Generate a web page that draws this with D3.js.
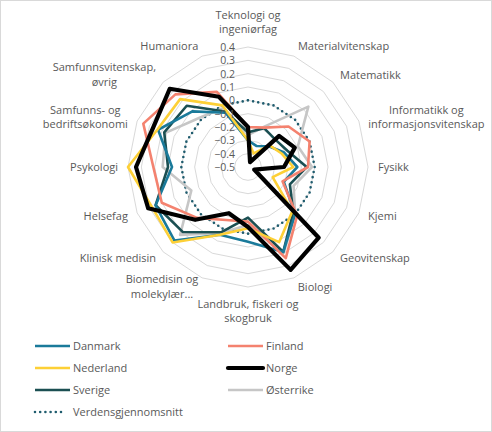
<!DOCTYPE html>
<html>
<head>
<meta charset="utf-8">
<script src="https://cdn.jsdelivr.net/npm/d3@7"></script>
<style>
  body { margin: 0; background: #fff; }
  svg { display: block; font-family: "Open Sans", sans-serif; }
</style>
</head>
<body>
<div id="chart"></div>
<script>
// ---- data ----
const fagfelt = [
  "Teknologi og\ningeniørfag", "Materialvitenskap", "Matematikk",
  "Informatikk og\ninformasjonsvitenskap", "Fysikk", "Kjemi", "Geovitenskap",
  "Biologi", "Landbruk, fiskeri og\nskogbruk", "Biomedisin og\nmolekylær...",
  "Klinisk medisin", "Helsefag", "Psykologi", "Samfunns- og\nbedriftsøkonomi",
  "Samfunnsvitenskap,\nøvrig", "Humaniora"
];

const land = ["Danmark", "Finland", "Nederland", "Norge", "Sverige", "Østerrike", "Verdensgjennomsnitt"];

const danmark   = [-0.30, -0.33, -0.28, -0.21, -0.13, -0.21, 0.00, 0.19, 0.06, 0.05, 0.28, 0.25, 0.07, 0.23, 0.09, -0.06];
const finland   = [-0.20, -0.18, -0.07, 0.00, -0.05, -0.22, 0.02, 0.24, -0.09, -0.07, 0.04, 0.20, 0.21, 0.35, 0.27, 0.11];
const nederland = [-0.30, -0.39, -0.27, -0.23, -0.16, -0.30, -0.03, 0.11, -0.04, 0.05, 0.30, 0.28, 0.40, 0.235, 0.22, 0.00];
const norge     = [-0.20, -0.46, -0.17, -0.12, -0.23, -0.45, 0.25, 0.335, -0.05, -0.125, 0.06, 0.31, 0.34, 0.27, 0.33, 0.07];
const sverige   = [-0.24, -0.185, -0.21, -0.18, -0.06, -0.16, -0.02, 0.19, -0.12, 0.03, 0.19, 0.25, 0.10, 0.18, 0.15, -0.05];
const osterrike = [-0.26, -0.17, 0.14, -0.095, -0.02, -0.13, 0.00, 0.20, -0.065, 0.035, 0.22, -0.04, 0.14, 0.17, 0.02, -0.02];
const verden    = [0, 0, 0, 0, 0, 0, 0, 0, 0, 0, 0, 0, 0, 0, 0, 0];

const ticks = [-0.5, -0.4, -0.3, -0.2, -0.1, 0, 0.1, 0.2, 0.3, 0.4];

const farger = ["#1a7a9a", "#f4826f", "#fdd036", "#000000", "#1b4f52", "#c6c6c6", "#1f5c6e"];
const serier = [danmark, finland, nederland, norge, sverige, osterrike, verden];

// ---- layout ----
const width = 492, height = 432;
const cx = 248, cy = 167, R = 120;

const svg = d3.select("#chart").append("svg")
  .attr("width", width).attr("height", height);

svg.append("rect")
  .attr("x", 0.5).attr("y", 0.5)
  .attr("width", width - 1).attr("height", height - 1)
  .attr("fill", "#fff").attr("stroke", "#d9d9d9");

const rScale = d3.scaleLinear().domain([-0.5, 0.4]).range([0, R]);
const aScale = d3.scaleLinear().domain([0, fagfelt.length]).range([0, 2 * Math.PI]);

const g = svg.append("g").attr("transform", `translate(${cx},${cy})`);

// rutenett
const ring = d3.lineRadial()
  .angle((d, i) => aScale(i))
  .radius(d => rScale(d))
  .curve(d3.curveLinearClosed);

g.selectAll(".ring")
  .data(ticks.slice(1))
  .enter()
  .append("path")
  .attr("d", t => ring(fagfelt.map(() => t)))
  .attr("fill", "none")
  .attr("stroke", "#d9d9d9")
  .attr("stroke-width", 1);

// serier (tegnes slik at Norge ligger over)
const rekkefolge = [6, 5, 4, 0, 1, 2, 3];
rekkefolge.forEach(k => {
  const sti = g.append("path")
    .attr("d", ring(serier[k]))
    .attr("fill", "none")
    .attr("stroke", farger[k])
    .attr("stroke-linejoin", "round");
  if (k === 6) {
    sti.attr("stroke-width", 2.6).attr("stroke-dasharray", "0 5.2").attr("stroke-linecap", "round");
  } else if (k === 3) {
    sti.attr("stroke-width", 4.2);
  } else {
    sti.attr("stroke-width", 2.6);
  }
});

// verdiakse
g.selectAll(".tick")
  .data(ticks)
  .enter()
  .append("text")
  .attr("x", -13)
  .attr("y", t => -rScale(t) + 4)
  .attr("text-anchor", "end")
  .attr("font-size", 10.5)
  .attr("fill", "#595959")
  .text(t => t === 0 ? "0" : d3.format(".1f")(t));

// kategorietiketter
const labR = 130, lineH = 14.5;
fagfelt.forEach((navn, i) => {
  const a = aScale(i);
  const px = Math.sin(a) * labR, py = -Math.cos(a) * labR;
  const linjer = navn.split("\n");
  const t = g.append("text")
    .attr("font-size", 11)
    .attr("fill", "#595959")
    .attr("text-anchor", "middle");
  linjer.forEach((l, j) => t.append("tspan").attr("x", 0).attr("dy", j === 0 ? 0 : lineH).text(l));
  const w = t.node().getBBox().width;
  const h = linjer.length * lineH;
  const s = Math.sin(a), c = Math.cos(a);
  let bx = px, by;
  if (s > 0.1) bx = px + w / 2;
  else if (s < -0.1) bx = px - w / 2;
  if (c > 0.99) by = py - h;
  else if (c < -0.99) by = py;
  else by = py - h / 2;
  t.attr("transform", `translate(${bx},${by + lineH / 2 + 3.5})`);
});

// forklaring
const legend = svg.append("g");
land.forEach((navn, k) => {
  const col = k === 6 ? 0 : k % 2;
  const row = Math.floor(k / 2);
  const x0 = col === 0 ? 35 : 228;
  const y0 = 346 + row * 22;
  const l = legend.append("line")
    .attr("x1", x0).attr("x2", x0 + 35)
    .attr("y1", y0).attr("y2", y0)
    .attr("stroke", farger[k]);
  if (k === 6) {
    l.attr("x2", x0 + 26).attr("stroke-width", 2.6).attr("stroke-dasharray", "0 5.2").attr("stroke-linecap", "round");
  } else {
    l.attr("stroke-width", k === 3 ? 4.2 : 2.6).attr("stroke-linecap", k === 3 ? "round" : "butt");
  }
  legend.append("text")
    .attr("x", x0 + 38).attr("y", y0 + 4)
    .attr("font-size", 11)
    .attr("fill", "#595959")
    .text(navn);
});
</script>
</body>
</html>
